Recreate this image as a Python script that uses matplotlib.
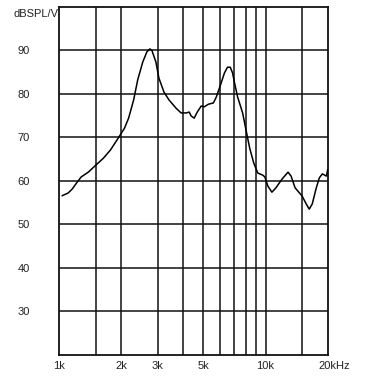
import matplotlib
matplotlib.use("Agg")
import matplotlib.pyplot as plt
import matplotlib.transforms as mtransforms

plt.rcParams['font.family'] = ['Liberation Sans', 'DejaVu Sans']

# frequency response (Hz, dB SPL/V)
freq = [1034, 1103, 1154, 1221, 1277, 1382, 1495, 1636, 1771, 1929, 2071, 2168,
        2294, 2400, 2539, 2657, 2747, 2810, 2940, 3041, 3217, 3402, 3681, 3895,
        4121, 4264, 4360, 4510, 4665, 4879, 5047, 5280, 5587, 5777, 6044, 6322,
        6540, 6743, 6918, 7075, 7318, 7742, 8009, 8379, 8767, 9170, 9700, 9922,
        10262, 10735, 11230, 12018, 12855, 13297, 13909, 15050, 15745, 16283,
        16844, 17620, 18230, 18857, 19723, 20000]
spl = [56.6, 57.2, 58.1, 59.7, 60.9, 62.0, 63.5, 65.2, 67.1, 69.8, 72.1, 74.4,
       78.6, 83.2, 87.3, 89.6, 90.3, 90.0, 87.3, 83.6, 80.4, 78.6, 76.7, 75.6,
       75.6, 75.8, 74.9, 74.4, 75.8, 77.2, 77.0, 77.6, 77.9, 79.3, 82.0, 84.8,
       86.1, 86.1, 84.8, 82.5, 79.3, 75.6, 72.1, 67.5, 64.1, 61.8, 61.3, 60.9,
       58.8, 57.4, 58.4, 60.4, 62.0, 61.1, 58.4, 56.5, 54.7, 53.5,
       54.7, 58.4, 60.7, 61.6, 61.1, 62.5]

x_ticks = [1000, 2000, 3000, 5000, 10000, 20000]
x_labels = ['1k', '2k', '3k', '5k', '10k', '20kHz']
x_grid = [1500, 4000, 6000, 7000, 8000, 9000, 15000]
y_ticks = [30, 40, 50, 60, 70, 80, 90]

fig = plt.figure(figsize=(3.85, 3.79), dpi=100)
ax = fig.add_axes([0.154, 0.0633, 0.697, 0.919])

ax.set_xscale('log')
ax.set_xlim(1000, 20000)
ax.set_ylim(20, 100)

for f in x_ticks[1:-1] + x_grid:
    ax.axvline(f, color='#111111', lw=1.1, zorder=1)
for y in y_ticks:
    ax.axhline(y, color='#111111', lw=1.1, zorder=1)

ax.plot(freq, spl, color='black', lw=1.1, zorder=3)

ax.set_xticks(x_ticks)
ax.set_xticklabels(x_labels)
ax.xaxis.set_minor_locator(matplotlib.ticker.NullLocator())
ax.set_yticks(y_ticks)
ax.set_yticklabels([str(v) for v in y_ticks])
ax.tick_params(axis='both', length=0, labelsize=8, colors='#222222')
ax.tick_params(axis='y', pad=21)
ax.tick_params(axis='x', pad=4)

# nudge the "20kHz" label so the "20k" sits on the right edge
lbl = ax.get_xticklabels()[-1]
lbl.set_transform(lbl.get_transform() +
                  mtransforms.ScaledTranslation(7 / 100, 0, fig.dpi_scale_trans))

for s in ax.spines.values():
    s.set_linewidth(1.3)
    s.set_color('#111111')

fig.text(59 / 385, 1 - 14 / 379, 'dBSPL/V', ha='right', va='center',
         fontsize=8, color='#222222')

fig.savefig('out.png', dpi=100)
